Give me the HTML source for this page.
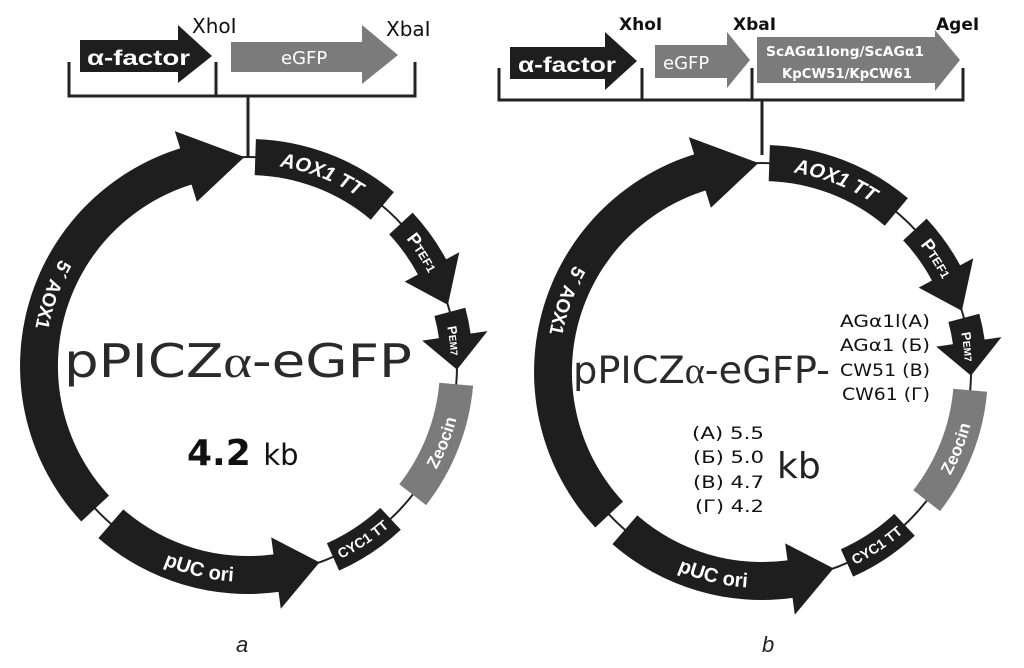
<!DOCTYPE html>
<html><head><meta charset="utf-8">
<style>
html,body{margin:0;padding:0;background:#fff;}
svg{display:block;}
text{font-family:"Liberation Sans","DejaVu Sans",sans-serif;}
.dv{font-family:"DejaVu Sans","Liberation Sans",sans-serif;}
</style></head>
<body>
<svg id="s" width="1024" height="668" viewBox="0 0 1024 668" xmlns="http://www.w3.org/2000/svg">
<defs id="defs"></defs>
<g id="g"></g>
<g stroke="#222" stroke-width="3" fill="none">
<path d="M69 62 V96 H415 V62 M216 62 V96 M248 96 V157"/>
<path d="M499 68 V100 H963 V68 M642 68 V100 M752 68 V100 M762 100 V155"/>
</g>
<polygon points="80,40 178,40 178,25 212,56 178,83 178,72 80,72" fill="#1e1e1e"/>
<text x="87" y="65" font-size="21" font-weight="bold" fill="#fff" textLength="103" lengthAdjust="spacingAndGlyphs">α-factor</text>
<polygon points="231,42 362,42 362,25 398,55 362,84 362,72 231,72" fill="#7b7b7b"/>
<text class="dv" x="281" y="64" font-size="18" fill="#fff">eGFP</text>
<text class="dv" x="192" y="33" font-size="20" fill="#111">XhoI</text>
<text class="dv" x="386" y="36" font-size="20" fill="#111">XbaI</text>

<polygon points="510,47 605,47 605,32 637,61 605,90 605,79 510,79" fill="#1e1e1e"/>
<text x="518" y="72" font-size="21" font-weight="bold" fill="#fff" textLength="98" lengthAdjust="spacingAndGlyphs">α-factor</text>
<polygon points="655,45 727,45 727,32 750,60 727,88 727,78 655,78" fill="#7b7b7b"/>
<text class="dv" x="663" y="69" font-size="18" fill="#fff">eGFP</text>
<polygon points="757,37 935,37 935,30 960,60 935,91 935,83 757,83" fill="#7b7b7b"/>
<text class="dv" x="766" y="56" font-size="13.5" font-weight="bold" fill="#fff" textLength="158" lengthAdjust="spacingAndGlyphs">ScAGα1long/ScAGα1</text>
<text class="dv" x="782" y="78" font-size="13.5" font-weight="bold" fill="#fff" textLength="130" lengthAdjust="spacingAndGlyphs">KpCW51/KpCW61</text>
<text class="dv" x="619" y="30" font-size="17" font-weight="bold" fill="#111">XhoI</text>
<text class="dv" x="733" y="30" font-size="17" font-weight="bold" fill="#111">XbaI</text>
<text class="dv" x="936" y="30" font-size="17" font-weight="bold" fill="#111">AgeI</text>

<text class="dv" x="64" y="377" font-size="46" fill="#2a2a2a" textLength="348" lengthAdjust="spacingAndGlyphs">pPICZ<tspan font-family="Liberation Serif,serif">α</tspan>-eGFP</text>
<text class="dv" x="187" y="465" font-size="36" font-weight="bold" fill="#111">4.2 <tspan font-size="29" font-weight="normal">kb</tspan></text>
<text class="dv" x="573" y="383" font-size="37" fill="#2a2a2a" textLength="257" lengthAdjust="spacingAndGlyphs">pPICZ<tspan font-family="Liberation Serif,serif">α</tspan>-eGFP-</text>
<g font-size="17" fill="#111" class="dv">
<text class="dv" x="840" y="327" textLength="90" lengthAdjust="spacingAndGlyphs">AGα1l(A)</text>
<text class="dv" x="840" y="351" textLength="90" lengthAdjust="spacingAndGlyphs">AGα1 (Б)</text>
<text class="dv" x="840" y="376" textLength="90" lengthAdjust="spacingAndGlyphs">CW51 (B)</text>
<text class="dv" x="842" y="400" textLength="88" lengthAdjust="spacingAndGlyphs">CW61 (Г)</text>
<text class="dv" x="692" y="439" textLength="72" lengthAdjust="spacingAndGlyphs">(A) 5.5</text>
<text class="dv" x="693" y="463" textLength="71" lengthAdjust="spacingAndGlyphs">(Б) 5.0</text>
<text class="dv" x="693" y="488" textLength="71" lengthAdjust="spacingAndGlyphs">(B) 4.7</text>
<text class="dv" x="695" y="512" textLength="69" lengthAdjust="spacingAndGlyphs">(Г) 4.2</text>
</g>
<text class="dv" x="777" y="478" font-size="36" fill="#222">kb</text>
<text x="236" y="652" font-size="22" font-style="italic" fill="#222">a</text>
<text x="762" y="652" font-size="22" font-style="italic" fill="#222">b</text>
</svg>
<script>
var NS="http://www.w3.org/2000/svg",g=document.getElementById('g'),defs=document.getElementById('defs');
var idn=0;
function P(c,r,a){var t=a*Math.PI/180;return [c[0]+r*Math.sin(t),c[1]-r*Math.cos(t)];}
function f(p){return p[0].toFixed(1)+" "+p[1].toFixed(1);}
function el(n,at,par){var e=document.createElementNS(NS,n);for(var k in at)e.setAttribute(k,at[k]);(par||g).appendChild(e);return e;}
function arcD(c,r,a1,a2){var s=P(c,r,a1),e=P(c,r,a2),sw=a2>a1?1:0,la=Math.abs(a2-a1)>180?1:0;return "M"+f(s)+" A"+r+" "+r+" 0 "+la+" "+sw+" "+f(e);}
function band(c,r,w,a1,a2,fill){
 var ro=r+w/2,ri=r-w/2,sw=a2>a1?1:0,la=Math.abs(a2-a1)>180?1:0;
 var d="M"+f(P(c,ro,a1))+" A"+ro+" "+ro+" 0 "+la+" "+sw+" "+f(P(c,ro,a2))+" L"+f(P(c,ri,a2))+" A"+ri+" "+ri+" 0 "+la+" "+(1-sw)+" "+f(P(c,ri,a1))+"Z";
 el('path',{d:d,fill:fill});}
function arrow(c,r,w,a1,a2,h,hw,fill){
 var s=a2>a1?1:-1,b=a2-s*h;band(c,r,w,a1,b,fill);
 el('polygon',{points:f(P(c,r+w/2+hw,b-s*0.3))+" "+f(P(c,r,a2))+" "+f(P(c,r-w/2-hw,b-s*0.3)),fill:fill});}
function label(c,r,a1,a2,txt,size,extra){
 var id="p"+(idn++);el('path',{id:id,d:arcD(c,r,a1,a2),fill:'none'},defs);
 var t=el('text',{"font-size":size,"font-weight":"bold",fill:"#fff","font-style":extra||"normal"});
 var tp=el('textPath',{href:"#"+id,startOffset:"50%","text-anchor":"middle"},t);
 tp.setAttributeNS("http://www.w3.org/1999/xlink","xlink:href","#"+id);
 tp.innerHTML=txt;}
function plasmid(c){
 var r=209;
 el('circle',{cx:c[0],cy:c[1],r:r,fill:'none',stroke:'#222','stroke-width':2});
 arrow(c,r,38,227,359,16,18,'#1e1e1e');
 band(c,r,36,2,40,'#1e1e1e');
 arrow(c,r,32,47,73,11,15,'#1e1e1e');
 arrow(c,r,32,75,91,9,17,'#1e1e1e');
 band(c,r,34,95,128,'#7b7b7b');
 band(c,r,30,137,156,'#1e1e1e');
 arrow(c,r,38,221,160,12,17,'#1e1e1e');
 label(c,r-7,4,38,"AOX1 TT",20,"italic");
 label(c,r-6,48,66,"P<tspan font-size='12'>TEF1</tspan>",18);
 label(c,r-6,76,90,"P<tspan font-size='10'>EM7</tspan>",13);
 label(c,r+6,128,95,"Zeocin",17);
 label(c,r+5,157,136,"CYC1 TT",14);
 label(c,r+7,215,172,"pUC ori",20);
 label(c,r+7,330,250,"5´ AOX1",19);
}
plasmid([248,366]);
plasmid([762,372]);
</script>
</body></html>
